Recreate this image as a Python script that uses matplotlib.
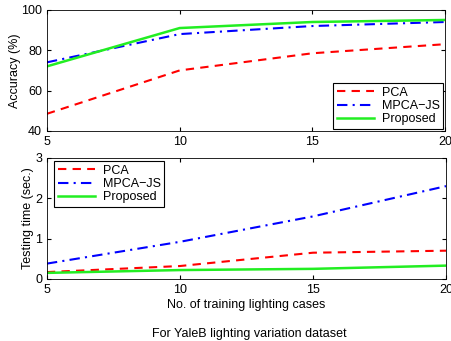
import matplotlib
matplotlib.use('Agg')
import matplotlib.pyplot as plt

plt.rcParams['font.family'] = ['Liberation Sans', 'DejaVu Sans']
plt.rcParams['font.size'] = 9

# number of training lighting cases
cases = [5, 10, 15, 20]

# accuracy (%)
acc_pca = [48.5, 70, 78.5, 83]
acc_mpca = [74, 88, 92, 94]
acc_prop = [72, 91, 94, 95]

# testing time (sec.)
time_pca = [0.17, 0.32, 0.65, 0.70]
time_mpca = [0.38, 0.92, 1.55, 2.3]
time_prop = [0.15, 0.22, 0.25, 0.33]

labels = ['PCA', 'MPCA\u2212JS', 'Proposed']

fig = plt.figure(figsize=(4.51, 3.41), dpi=100)
ax1 = fig.add_axes([0.104, 0.616, 0.883, 0.355])
ax2 = fig.add_axes([0.104, 0.182, 0.885, 0.355])

def style(ax):
    ax.tick_params(direction='in', top=True, right=True, length=3, labelsize=9)
    for s in ax.spines.values():
        s.set_linewidth(0.6)
    ax.set_xlim(5, 20)
    ax.set_xticks([5, 10, 15, 20])

ax1.plot(cases, acc_pca, 'r--', lw=1.5, dashes=(4, 3), label=labels[0])
ax1.plot(cases, acc_mpca, 'b-.', lw=1.5, dashes=(5, 2.5, 1, 2.5), label=labels[1])
ax1.plot(cases, acc_prop, '-', color='#22ee22', lw=1.8, label=labels[2])
style(ax1)
ax1.set_ylim(40, 100)
ax1.set_yticks([40, 60, 80, 100])
ax1.set_ylabel('Accuracy (%)')
ax1.yaxis.set_label_coords(-0.065, 0.5)
leg = ax1.legend(loc='lower right', fancybox=False, edgecolor='k', framealpha=1,
                 borderaxespad=0.15, handlelength=3.0, labelspacing=0.1, borderpad=0.3,
                 handletextpad=0.6)
leg.get_frame().set_linewidth(0.8)

ax2.plot(cases, time_pca, 'r--', lw=1.5, dashes=(4, 3), label=labels[0])
ax2.plot(cases, time_mpca, 'b-.', lw=1.5, dashes=(5, 2.5, 1, 2.5), label=labels[1])
ax2.plot(cases, time_prop, '-', color='#22ee22', lw=1.8, label=labels[2])
style(ax2)
ax2.set_ylim(0, 3)
ax2.set_yticks([0, 1, 2, 3])
ax2.set_ylabel('Testing time (sec.)')
ax2.yaxis.set_label_coords(-0.033, 0.5)
ax2.set_xlabel('No. of training lighting cases', labelpad=2)
leg2 = ax2.legend(loc='upper left', bbox_to_anchor=(0.0175, 0.975), fancybox=False,
                  edgecolor='k', framealpha=1, borderaxespad=0, handlelength=3.0,
                  labelspacing=0.1, borderpad=0.3, handletextpad=0.6)
leg2.get_frame().set_linewidth(0.8)

fig.text(0.552, 0.012, 'For YaleB lighting variation dataset', ha='center', fontsize=9)

fig.savefig('out.png', dpi=100)
